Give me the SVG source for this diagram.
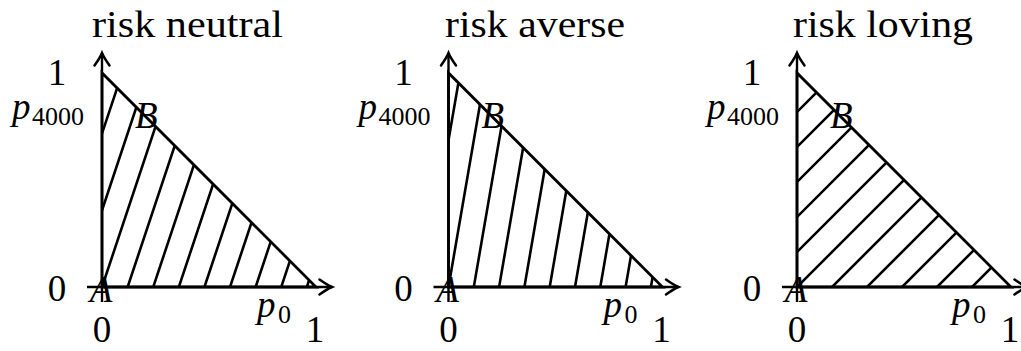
<svg xmlns="http://www.w3.org/2000/svg" width="1021" height="351" viewBox="0 0 1021 351">
<style>
  text { font-family: "Liberation Serif", "Times New Roman", serif; font-size: 37px; fill: #000; }
  .it { font-style: italic; }
  .sub { font-size: 26px; font-style: normal; }
  .mid { text-anchor: middle; }
  .tri { fill: none; stroke: #000; stroke-width: 2.8; stroke-linejoin: miter; }
  .hatch { fill: none; stroke: #000; stroke-width: 2.6; }
  .axis { fill: none; stroke: #000; stroke-width: 2.4; }
</style>
<defs>
  <marker id="arr" markerUnits="userSpaceOnUse" markerWidth="20" markerHeight="20" viewBox="-12 -8 14 16" refX="0" refY="0" orient="auto" overflow="visible">
    <path d="M-10,-6 Q-3.5,-1.4 0,0 Q-3.5,1.4 -10,6" fill="none" stroke="#000" stroke-width="2" stroke-linecap="round"/>
  </marker>
  <clipPath id="triclip">
    <path d="M0,287 L0,73 L214,287 Z"/>
  </clipPath>
</defs>

<!-- Panel 1: risk neutral -->
<g id="panel-neutral" transform="translate(102,0)">
  <text x="-10" y="37" textLength="191" lengthAdjust="spacingAndGlyphs">risk neutral</text>
  <g id="hatch-neutral" class="hatch" clip-path="url(#triclip)">
    <path d="M-55.5,300l80,-240M-29.9,300l80,-240M-4.3,300l80,-240M21.3,300l80,-240M46.9,300l80,-240M72.5,300l80,-240M98.1,300l80,-240M123.7,300l80,-240M149.3,300l80,-240M174.9,300l80,-240M200.5,300l80,-240"/>
  </g>
  <path class="tri" d="M0,287 L0,73 L214,287 Z"/>
  <g id="axes-neutral" class="axis">
    <path d="M-15,287 H230" marker-end="url(#arr)"/>
    <path d="M0,302 V53" marker-end="url(#arr)"/>
  </g>
  <text class="mid" x="-45" y="85">1</text>
  <text class="it" x="-90" y="119">p<tspan class="sub" x="-70" y="125">4000</tspan></text>
  <text class="mid" x="-45" y="301">0</text>
  <text class="it mid" x="-1" y="302">A</text>
  <text class="it" x="33" y="128">B</text>
  <text class="mid" x="0" y="342">0</text>
  <text class="it" x="155" y="317">p<tspan class="sub" x="176" y="323">0</tspan></text>
  <text class="mid" x="213" y="342">1</text>
</g>

<!-- Panel 2: risk averse -->
<g id="panel-averse" transform="translate(448.5,0)">
  <text x="-3.5" y="37" textLength="180" lengthAdjust="spacingAndGlyphs">risk averse</text>
  <g id="hatch-averse" class="hatch" clip-path="url(#triclip)">
    <path d="M-27.54,300l41.38,-240M-2.24,300l41.38,-240M23.06,300l41.38,-240M48.36,300l41.38,-240M73.66,300l41.38,-240M98.96,300l41.38,-240M124.26,300l41.38,-240M149.56,300l41.38,-240M174.86,300l41.38,-240M200.16,300l41.38,-240"/>
  </g>
  <path class="tri" d="M0,287 L0,73 L214,287 Z"/>
  <g id="axes-averse" class="axis">
    <path d="M-15,287 H230" marker-end="url(#arr)"/>
    <path d="M0,302 V53" marker-end="url(#arr)"/>
  </g>
  <text class="mid" x="-45" y="85">1</text>
  <text class="it" x="-90" y="119">p<tspan class="sub" x="-70" y="125">4000</tspan></text>
  <text class="mid" x="-45" y="301">0</text>
  <text class="it mid" x="-1" y="302">A</text>
  <text class="it" x="33" y="128">B</text>
  <text class="mid" x="0" y="342">0</text>
  <text class="it" x="155" y="317">p<tspan class="sub" x="176" y="323">0</tspan></text>
  <text class="mid" x="213" y="342">1</text>
</g>

<!-- Panel 3: risk loving -->
<g id="panel-loving" transform="translate(797,0)">
  <text x="-4" y="37" textLength="180" lengthAdjust="spacingAndGlyphs">risk loving</text>
  <g id="hatch-loving" class="hatch" clip-path="url(#triclip)">
    <path d="M-188,300l240,-240M-153,300l240,-240M-118,300l240,-240M-83,300l240,-240M-48,300l240,-240M-13,300l240,-240M22,300l240,-240M57,300l240,-240M92,300l240,-240M127,300l240,-240M162,300l240,-240"/>
  </g>
  <path class="tri" d="M0,287 L0,73 L214,287 Z"/>
  <g id="axes-loving" class="axis">
    <path d="M-15,287 H230" marker-end="url(#arr)"/>
    <path d="M0,302 V53" marker-end="url(#arr)"/>
  </g>
  <text class="mid" x="-45" y="85">1</text>
  <text class="it" x="-90" y="119">p<tspan class="sub" x="-70" y="125">4000</tspan></text>
  <text class="mid" x="-45" y="301">0</text>
  <text class="it mid" x="-1" y="302">A</text>
  <text class="it" x="33" y="128">B</text>
  <text class="mid" x="0" y="342">0</text>
  <text class="it" x="155" y="317">p<tspan class="sub" x="176" y="323">0</tspan></text>
  <text class="mid" x="213" y="342">1</text>
</g>
</svg>
